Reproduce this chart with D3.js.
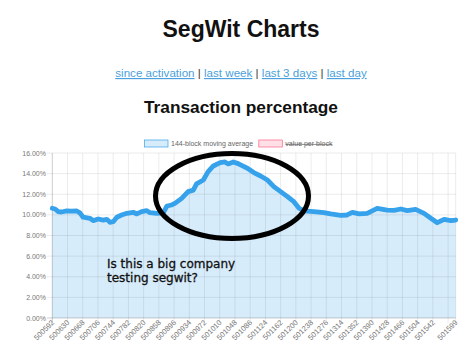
<!DOCTYPE html>
<html><head><meta charset="utf-8">
<script src="https://cdn.jsdelivr.net/npm/d3@7"></script>
<style>html,body{margin:0;padding:0;background:#fff;overflow:hidden}</style>
</head><body>
<svg id="c" width="474" height="357"></svg>
<script>
const blocks = [500592,500599,500607,500615,500628,500640,500653,500661,500669,500686,500694,500707,500719,500728,500736,500744,500753,500765,500778,500794,500803,500815,500828,500836,500853,500869,500878,500890,500898,500915,500931,500944,500952,500969,500981,500994,501011,501023,501031,501044,501056,501062,501079,501095,501112,501129,501145,501162,501179,501195,501208,501220,501245,501270,501287,501312,501328,501341,501358,501378,501403,501428,501445,501462,501478,501499,501520,501537,501553,501570,501587,501599];
const movingAvg = [10.64,10.57,10.31,10.28,10.38,10.36,10.38,10.2,9.77,9.67,9.44,9.6,9.5,9.57,9.28,9.34,9.77,9.99,10.15,10.25,10.09,10.31,10.41,10.21,10.15,10.2,10.86,10.96,11.12,11.6,12.25,12.4,13.0,13.38,14.19,14.74,15.06,15.13,14.94,15.13,14.97,14.84,14.52,14.1,13.77,13.38,12.74,12.25,11.77,11.28,10.64,10.38,10.31,10.21,10.09,9.96,9.99,10.25,10.09,10.15,10.64,10.47,10.44,10.57,10.41,10.54,10.15,9.67,9.24,9.57,9.44,9.5];
const xTickLabels = [500592,500630,500668,500706,500744,500782,500820,500858,500896,500934,500972,501010,501048,501086,501124,501162,501200,501238,501276,501314,501352,501390,501428,501466,501504,501542,501580,501599];
const shownXLabels = xTickLabels.filter(d => d !== 501580);
const yTicks = [0,2,4,6,8,10,12,14,16];
const legendItems = ["144-block moving average","value per block"];
const links = ["since activation","last week","last 3 days","last day"];
const pageTitle = "SegWit Charts";
const chartTitle = "Transaction percentage";
const noteLines = ["Is this a big company","testing segwit?"];

const svg = d3.select("#c");
const x = d3.scaleLinear().domain([500592,501599]).range([52.3,455.7]);
const y = d3.scaleLinear().domain([0,16]).range([318,153]);
const sans = "'Liberation Sans', Arial, sans-serif";

// titles
svg.append("text").attr("x",241).attr("y",37).attr("text-anchor","middle")
  .style("font",`bold 23px ${sans}`).attr("fill","#111").text(pageTitle);
const lt = svg.append("text").attr("x",241).attr("y",77).attr("text-anchor","middle")
  .style("font",`11.6px ${sans}`);
links.forEach((l,i)=>{
  if(i>0) lt.append("tspan").attr("fill","#333").text(" | ");
  lt.append("tspan").attr("fill","#4a9fdc").attr("text-decoration","underline").text(l);
});
svg.append("text").attr("x",241).attr("y",113).attr("text-anchor","middle")
  .style("font",`bold 17.3px ${sans}`).attr("fill","#111").text(chartTitle);

// legend
const legCol = [{fill:"rgba(54,162,235,0.2)",stroke:"rgb(54,162,235)",x:144},{fill:"rgba(255,99,132,0.2)",stroke:"rgb(255,99,132)",x:258.3}];
legendItems.forEach((t,i)=>{
  svg.append("rect").attr("x",legCol[i].x+0.5).attr("y",140).attr("width",23.5).attr("height",7)
    .attr("fill",legCol[i].fill).attr("stroke",legCol[i].stroke).attr("stroke-width",0.7);
  const tx = svg.append("text").attr("x",legCol[i].x+27).attr("y",146.3)
    .style("font",`7px ${sans}`).attr("fill","#666").text(t);
  if(i===1) tx.attr("text-decoration","line-through");
});

// area
const area = d3.area().x((d,i)=>x(blocks[i])).y0(y(0)).y1(d=>y(d));
svg.append("path").datum(movingAvg).attr("d",area).attr("fill","rgba(54,162,235,0.2)");

// grid
const g = svg.append("g");
xTickLabels.forEach((b,i)=>{
  g.append("line").attr("x1",x(b)).attr("x2",x(b)).attr("y1",y(16)).attr("y2",y(0)+5)
    .attr("stroke", i===0 ? "rgba(0,0,0,0.25)" : "rgba(0,0,0,0.1)").attr("stroke-width",0.8);
});
yTicks.forEach(v=>{
  g.append("line").attr("x1",47).attr("x2",x(501599)).attr("y1",y(v)).attr("y2",y(v))
    .attr("stroke", v===0 ? "rgba(0,0,0,0.25)" : "rgba(0,0,0,0.1)").attr("stroke-width",0.8);
  g.append("text").attr("x",46).attr("y",y(v)+2.5).attr("text-anchor","end")
    .style("font",`7px ${sans}`).attr("fill","#777").text(v.toFixed(2)+"%");
});
shownXLabels.forEach(b=>{
  g.append("text").attr("transform",`translate(${x(b)+2.5},${y(0)+5}) rotate(-45)`)
    .attr("text-anchor","end").style("font",`7.5px ${sans}`).attr("fill","#777").text(b);
});

// line
const line = d3.line().x((d,i)=>x(blocks[i])).y(d=>y(d));
svg.append("path").datum(movingAvg).attr("d",line).attr("fill","none")
  .attr("stroke","rgb(54,162,235)").attr("stroke-width",4.8)
  .attr("stroke-linejoin","round").attr("stroke-linecap","round");

// annotation
svg.append("ellipse").attr("cx",232).attr("cy",196).attr("rx",76.5).attr("ry",42.5)
  .attr("fill","none").attr("stroke","#000").attr("stroke-width",5);
noteLines.forEach((t,i)=>{
  svg.append("text").attr("x",107).attr("y",268.3+i*14)
    .style("font","12px 'DejaVu Sans', sans-serif").attr("fill","#111")
    .attr("stroke","#111").attr("stroke-width",0.3).text(t);
});
</script>
</body></html>
